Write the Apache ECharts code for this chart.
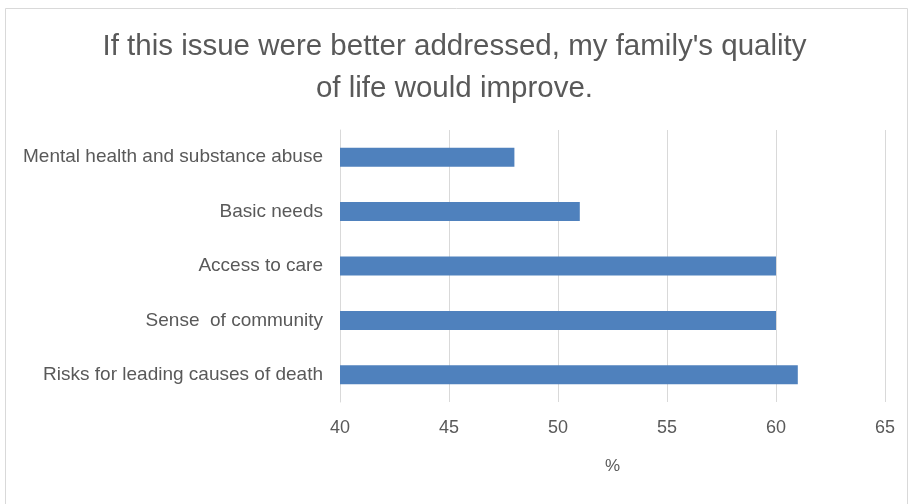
<!DOCTYPE html>
<html>
<head>
<meta charset="utf-8">
<script src="https://cdn.jsdelivr.net/npm/echarts@6/dist/echarts.min.js"></script>
<style>html,body{margin:0;padding:0;background:#fff;}#c{width:909px;height:504px;}</style>
</head>
<body>
<div id="c"></div>
<script>
const categories = ["Mental health and substance abuse", "Basic needs", "Access to care", "Sense  of community", "Risks for leading causes of death"];
const values = [48, 51, 60, 60, 61];
const xTicks = [40, 45, 50, 55, 60, 65];
const titleText = "If this issue were better addressed, my family's quality\nof life would improve.";
const xAxisName = "%";

const chart = echarts.init(document.getElementById('c'), null, {renderer: 'canvas'});
chart.setOption({
  animation: false,
  backgroundColor: '#fff',
  graphic: [{
    type: 'rect', left: 3, top: 6, shape: {width: 902, height: 500},
    style: {fill: 'none', stroke: '#d9d9d9', lineWidth: 1}, silent: true
  }],
  title: {
    text: titleText, left: 'center', top: 21,
    textStyle: {fontFamily: 'Liberation Sans', fontWeight: 'normal', fontSize: 29.5, color: '#595959', lineHeight: 42}
  },
  grid: {left: 340, right: 24, top: 130, height: 272, containLabel: false},
  xAxis: {
    type: 'value', min: xTicks[0], max: xTicks[xTicks.length - 1], interval: 5,
    name: xAxisName, nameLocation: 'middle', nameGap: 56,
    nameTextStyle: {fontFamily: 'Liberation Sans', fontSize: 17, color: '#595959'},
    axisLine: {show: false}, axisTick: {show: false},
    axisLabel: {fontFamily: 'Liberation Sans', fontSize: 18, color: '#595959', margin: 17},
    splitLine: {show: true, lineStyle: {color: '#d9d9d9', width: 1}}
  },
  yAxis: {
    type: 'category', data: categories, inverse: true,
    axisLine: {show: true, lineStyle: {color: '#d9d9d9'}}, axisTick: {show: false},
    axisLabel: {fontFamily: 'Liberation Sans', fontSize: 19, color: '#595959', margin: 17}
  },
  series: [{
    type: 'bar', data: values, barWidth: 19,
    itemStyle: {color: '#4f81bd'}
  }]
});
</script>
</body>
</html>
